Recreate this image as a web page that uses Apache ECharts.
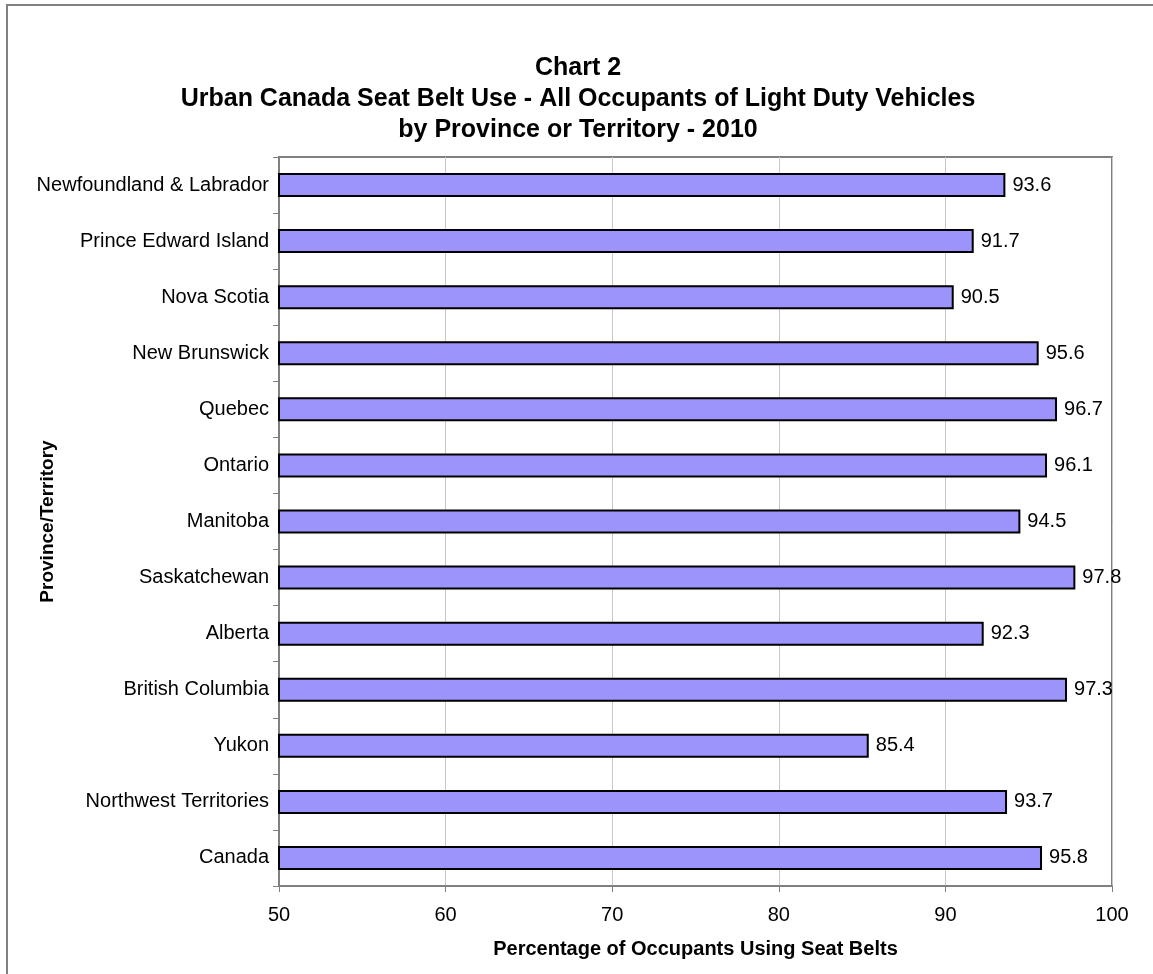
<!DOCTYPE html>
<html><head><meta charset="utf-8">
<script src="https://cdn.jsdelivr.net/npm/echarts@6/dist/echarts.min.js"></script>
<style>html,body{margin:0;padding:0;background:#fff}#c{width:1153px;height:974px}</style>
</head><body><div id="c"></div>
<script>
var categories = ["Newfoundland & Labrador","Prince Edward Island","Nova Scotia","New Brunswick","Quebec","Ontario","Manitoba","Saskatchewan","Alberta","British Columbia","Yukon","Northwest Territories","Canada"];
var values = [93.6,91.7,90.5,95.6,96.7,96.1,94.5,97.8,92.3,97.3,85.4,93.7,95.8];
var xTicks = [50,60,70,80,90,100];
var titleLines = ["Chart 2","Urban Canada Seat Belt Use - All Occupants of Light Duty Vehicles","by Province or Territory - 2010"];

var chart = echarts.init(document.getElementById('c'));
var F = 'Liberation Sans, Arial, sans-serif';
chart.setOption({
  animation:false,
  backgroundColor:'#fff',
  graphic:[{type:'rect',shape:{x:7,y:5,width:1200,height:1100},style:{fill:'none',stroke:'#808080',lineWidth:2},silent:true,z:-1}],
  title:{text:titleLines.join('\n'),left:573,textAlign:'center',top:48,
    textStyle:{fontFamily:F,fontSize:25,fontWeight:'bold',color:'#000',lineHeight:31}},
  grid:{left:279,right:41,top:157,bottom:88,containLabel:false,show:true,borderColor:'#808080',borderWidth:2,backgroundColor:'transparent'},
  xAxis:{type:'value',min:50,max:100,interval:10,
    name:'Percentage of Occupants Using Seat Belts',nameLocation:'middle',nameGap:53,
    nameTextStyle:{fontFamily:F,fontSize:20,fontWeight:'bold',color:'#000'},
    axisLine:{show:true,lineStyle:{color:'#808080',width:2}},
    axisTick:{show:true,length:6,lineStyle:{color:'#808080'}},
    axisLabel:{fontFamily:F,fontSize:20,color:'#000',margin:19,formatter:function(v){return xTicks.indexOf(v)>=0?String(v):'';}},
    splitLine:{show:true,lineStyle:{color:'#c8c8c8',width:1}}},
  yAxis:{type:'category',data:categories,inverse:true,
    name:'Province/Territory',nameLocation:'middle',nameGap:222,nameRotate:90,nameMoveOverlap:false,
    nameTextStyle:{fontFamily:F,fontSize:19,fontWeight:'bold',color:'#000'},
    axisLine:{show:true,lineStyle:{color:'#808080',width:2}},
    axisTick:{show:true,length:6,alignWithLabel:false,lineStyle:{color:'#808080'}},
    axisLabel:{fontFamily:F,fontSize:20,color:'#000',margin:10}},
  series:[{type:'bar',data:values,barWidth:24,
    itemStyle:{color:'#9c94fa',borderColor:'#000',borderWidth:2},
    label:{show:true,position:'right',distance:7,fontFamily:F,fontSize:20,color:'#000',formatter:function(p){return p.value.toFixed(1);}}}]
});
</script></body></html>
